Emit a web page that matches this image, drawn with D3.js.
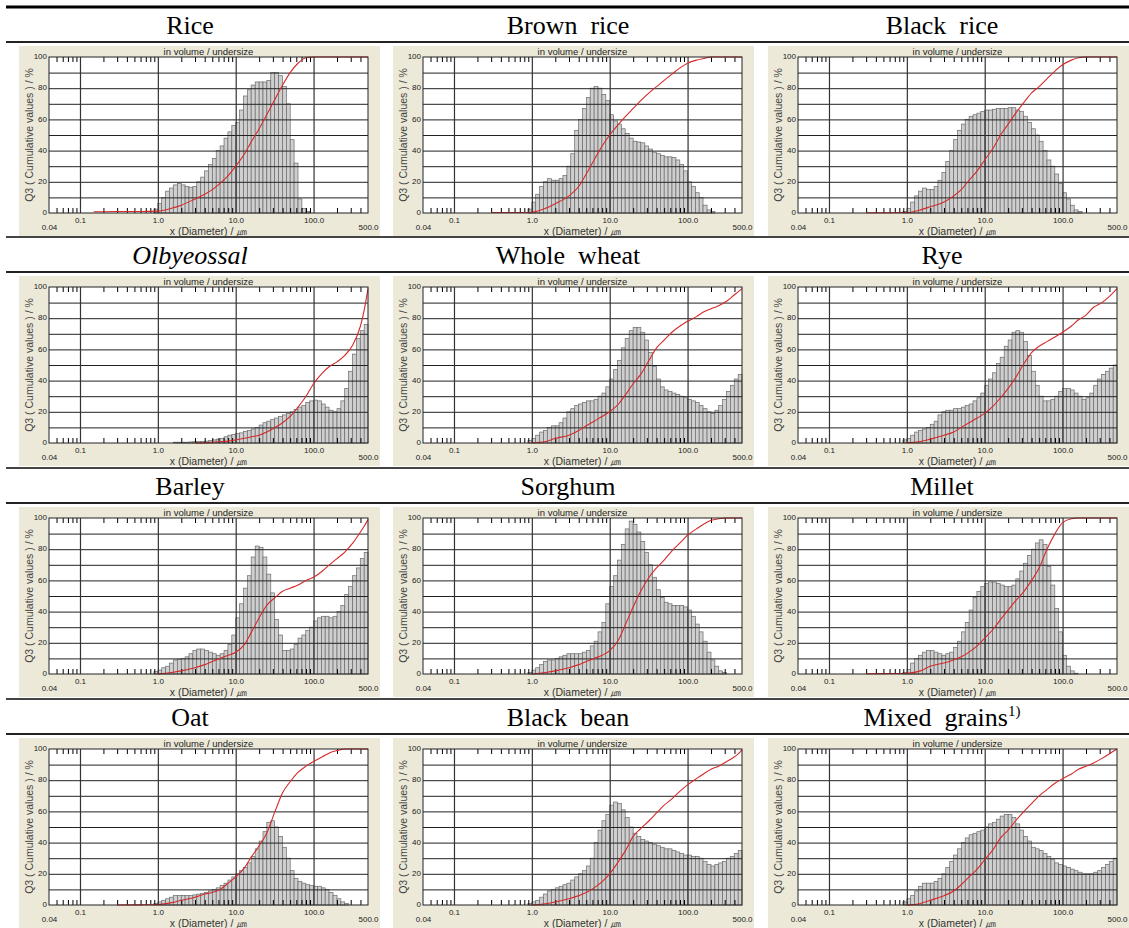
<!DOCTYPE html>
<html>
<head>
<meta charset="utf-8">
<script src="https://cdn.jsdelivr.net/npm/d3@7"></script>
<style>
  body { margin: 0; background: #fff; }
  svg { display: block; }
</style>
</head>
<body>
<svg id="chart"></svg>
<script>
// size classes of the analyser (um), 20 per decade
var classEdges = [0.89, 1.00, 1.12, 1.26, 1.41, 1.58, 1.78, 2.00, 2.24, 2.51, 2.82, 3.16, 3.55, 3.98, 4.47,
  5.01, 5.62, 6.31, 7.08, 7.94, 8.91, 10.0, 11.2, 12.6, 14.1, 15.8, 17.8, 20.0, 22.4, 25.1, 28.2, 31.6,
  35.5, 39.8, 44.7, 50.1, 56.2, 63.1, 70.8, 79.4, 89.1, 100, 112, 126, 141, 158, 178, 200, 224, 251,
  282, 316, 355, 398, 447, 500];

// x positions where the cumulative (undersize) curve was read
var cumX = [0.15, 0.3, 0.6, 1.0, 1.5, 2, 3, 4, 5, 6.3, 8, 10, 13, 16, 20, 25, 32, 40, 50, 63, 80, 100,
  130, 160, 200, 250, 320, 400, 450, 500];

var names = ["Rice", "Brown  rice", "Black  rice", "Olbyeossal", "Whole  wheat", "Rye",
  "Barley", "Sorghum", "Millet", "Oat", "Black  bean", "Mixed  grains"];

var yTicks = [0, 20, 40, 60, 80, 100];
var yGrid = [10, 20, 30, 40, 50, 60, 70, 80, 90];
var xDecades = [0.1, 1, 10, 100];
var xEnds = [0.04, 500];
var minorTicks = [0.05, 0.06, 0.07, 0.08, 0.09, 0.2, 0.3, 0.4, 0.5, 0.6, 0.7, 0.8, 0.9,
  2, 3, 4, 5, 6, 7, 8, 9, 20, 30, 40, 50, 60, 70, 80, 90, 200, 300, 400];

// histogram heights, first value is the 0.89-1.0 class
var riceQ3 = [2.5, 6, 10, 14, 16, 18, 19, 18, 17, 16.5, 17, 20, 23, 27, 31, 35, 40, 43, 48, 52, 56, 58, 66, 75,
  79, 82, 84, 84, 84, 85, 90, 90, 88, 81, 70, 47, 32, 9, 3, 1];
var riceCum = [0.8, 1, 1, 1.2, 3, 5, 9, 12, 15, 19, 24, 30, 38, 46, 54, 63, 73, 82, 90, 96, 99.5, 100,
  100, 100, 100, 100, 100, 100, 100, 100];

var brownQ3 = [2.5, 7, 12, 17, 20, 22, 21, 21, 22, 24, 30, 38, 53, 60, 67, 74, 80, 81, 80, 76, 72, 63, 59, 57,
  54, 51, 48, 46, 45.5, 45, 43, 41, 39, 38, 37, 36, 36, 35.5, 34, 31, 27, 20, 17, 13, 10, 5, 2, 1];
var brownCum = [null, 0.3, 0.3, 0.5, 3, 6, 11, 17, 25, 34, 43, 50, 57, 62, 67, 72, 77, 81, 85, 89, 93, 96,
  98, 99, 100, 100, 100, 100, 100, 100];

var blackRiceQ3 = [1, 3, 7, 11, 14, 16, 15, 15, 17, 21, 26, 33, 40, 47, 53, 57, 60, 62, 63, 64, 65, 66, 66,
  66.5, 67, 67, 67, 67.5, 67.5, 66, 65, 62, 58, 54, 50, 46, 40, 34, 30, 25, 19, 13, 9, 5, 2, 1];
var blackRiceCum = [null, 0.2, 0.2, 0.3, 2, 4, 7, 11, 15, 21, 27, 34, 42, 50, 57, 64, 71, 77, 81, 86, 91, 95,
  98, 99.5, 100, 100, 100, 100, 100, 100];

var olbyeoQ3 = [0, 0, 0, 0, 0, 0.5, 0.5, 0.5, 0.5, 0.7, 0.8, 1, 1, 1.2, 1.5, 2, 2.5, 3, 4, 5, 5.5, 6, 6.5,
  7.5, 8, 9, 10, 11.5, 13, 14, 15, 16, 17, 18, 19, 20, 21.5, 23, 24, 26, 27, 27.5, 27, 25, 23, 21, 20, 22,
  27, 35, 46, 57, 67, 72, 76];
var olbyeoCum = [null, null, null, null, null, null, 0, 0.2, 0.5, 0.8, 1.2, 2, 3, 4, 5, 7, 10, 13, 17, 23,
  30, 38, 45, 49, 52, 56, 63, 75, 86, 99];

var wheatQ3 = [1.5, 3, 5, 7, 8, 10, 11, 11, 13, 16, 20, 22, 24, 25, 26, 27, 27, 28, 30, 32, 36, 41, 47, 53,
  61, 67, 72, 74, 74, 71, 66, 58, 49, 41, 36, 34, 33, 32, 31, 30, 29, 28, 27, 26, 24, 22, 20, 19, 21, 24,
  28, 33, 37, 41, 44];
var wheatCum = [null, null, null, 0.2, 1, 3, 5, 8, 11, 14, 17, 20, 25, 31, 38, 44, 53, 61, 66, 71, 75, 78,
  81, 84, 86, 88, 91, 95, 97, 99];

var ryeQ3 = [2, 3, 5, 7, 8, 9, 10, 12, 14, 18, 20, 21, 21, 22, 22, 23, 24, 25, 27, 29, 32, 37, 41, 45, 51,
  55, 62, 66, 71, 72, 71, 65, 56, 46, 37, 30, 27, 27, 28, 30, 33, 35, 35, 34, 32, 30, 28, 29, 32, 37, 41,
  44, 46, 48, 50];
var ryeCum = [null, null, null, 0.3, 1, 2.5, 5, 7, 10, 13, 16, 19, 24, 29, 35, 42, 51, 58, 62, 65, 68, 71,
  75, 79, 82, 87, 90, 94, 96.5, 99];

var barleyQ3 = [1.5, 2.5, 4, 5, 7, 9, 9.5, 10, 11, 13, 15, 16, 16, 15, 14, 13, 12, 13, 15, 19, 25, 36, 45,
  55, 63, 75, 82, 81, 75, 64, 52, 35, 25, 15, 15, 16, 19, 23, 25, 28, 30, 34, 36, 37, 37, 36, 37, 40, 44,
  51, 56, 63, 68, 74, 78];
var barleyCum = [null, null, null, 0, 1, 2, 4, 6, 8, 10, 12, 14, 19, 27, 36, 44, 49, 53, 55, 57, 60, 62,
  66, 70, 74, 78, 84, 91, 95, 99];

var sorghumQ3 = [1, 2.5, 4, 6, 8, 9, 9, 10, 11, 12, 13, 13, 13, 13, 14, 15, 18, 21, 27, 33, 45, 56, 63, 73,
  83, 93, 98, 96, 91, 85, 78, 70, 62, 54, 49, 46, 45, 44, 44, 44, 43, 41, 37, 32, 27, 21, 14, 9, 5, 2, 1];
var sorghumCum = [null, null, null, 0, 1, 2, 4, 6, 8, 10, 12, 15, 22, 32, 43, 53, 62, 68, 73, 79, 84, 89,
  93, 96, 98.5, 99.5, 100, 100, 100, 100];

var milletQ3 = [1, 3, 7, 10, 12, 14, 15, 15, 14, 13, 12, 13, 14, 17, 21, 27, 33, 41, 49, 53, 56, 58, 59,
  59, 58, 57, 56, 56, 57, 61, 66, 71, 76, 80, 84, 86, 83, 69, 57, 42, 27, 12, 5, 2, 0.5];
var milletCum = [null, 0.2, 0.3, 0.5, 2, 5, 7, 9, 11, 14, 18, 23, 29, 35, 41, 47, 53, 60, 68, 80, 90, 97,
  99.5, 100, 100, 100, 100, 100, 100, 100];

var oatQ3 = [1, 2, 3, 4, 5, 6, 6, 6, 6, 6, 6.5, 7, 7.5, 8, 9, 10, 11, 12.5, 14, 16, 18, 20, 22, 24, 27, 31,
  36, 41, 47, 53, 54, 50, 44, 37, 30, 22, 17, 15, 14, 13, 12.5, 12, 12, 11, 10, 8, 6, 4, 2, 1];
var oatCum = [null, 0, 0.1, 0.3, 1.5, 3, 5, 7, 8, 10, 14, 18, 24, 31, 38, 46, 60, 72, 79, 85, 89, 92, 95,
  97.5, 99, 100, 100, 100, 100, 100];

var beanQ3 = [1, 2, 3, 5, 7, 9, 10, 11, 12, 13, 14, 16, 18, 20, 22, 25, 30, 40, 48, 54, 58, 64, 66, 65, 61,
  56, 50, 46, 44, 42, 41, 40, 39, 38, 37, 36, 36, 35, 34, 33, 32, 32, 31, 31, 30, 28, 26, 25, 26, 27, 28,
  30, 31, 33, 35];
var beanCum = [null, null, null, 0, 0.8, 2, 4, 6, 8, 11, 15, 20, 28, 35, 44, 49, 54, 59, 64, 68, 73, 77,
  81, 84, 87, 89, 92, 95, 97, 99.5];

var mixedQ3 = [2, 4, 6, 9, 12, 14, 14, 14, 15, 17, 20, 24, 28, 32, 36, 40, 43, 45, 46, 47, 48, 50, 52, 53,
  55, 57, 58, 58, 56, 52, 48, 44, 41, 37, 36, 35, 33, 31, 29, 27, 26, 25, 24, 23, 22, 21, 20, 20, 20, 21,
  22, 24, 26, 28, 30];
var mixedCum = [null, null, null, 0, 1, 3, 6, 9, 13, 18, 23, 29, 36, 43, 48, 54, 60, 65, 70, 74, 78, 81,
  84, 87, 89, 91, 94, 97, 98.5, 100];

var q3List = [riceQ3, brownQ3, blackRiceQ3, olbyeoQ3, wheatQ3, ryeQ3, barleyQ3, sorghumQ3, milletQ3,
  oatQ3, beanQ3, mixedQ3];
var cumList = [riceCum, brownCum, blackRiceCum, olbyeoCum, wheatCum, ryeCum, barleyCum, sorghumCum,
  milletCum, oatCum, beanCum, mixedCum];

var width = 1129, height = 928;
var rowTops = [42, 272, 503, 734];
var plotLefts = [49, 423, 798];
var colCenters = [190, 568, 942];
var plotW = 319, plotH = 156;
var panelColor = "#ece9d8";
var sans = "'Liberation Sans', Arial, sans-serif";

var svg = d3.select("#chart").attr("width", width).attr("height", height);

var x = d3.scaleLog().domain([0.04, 500]).range([0, plotW]);
var y = d3.scaleLinear().domain([0, 100]).range([plotH, 0]);

/* table rules */
svg.append("line").attr("x1", 6).attr("x2", width).attr("y1", 7).attr("y2", 7)
  .attr("stroke", "#000").attr("stroke-width", 3);
rowTops.forEach(function (t, r) {
  svg.append("line").attr("x1", 6).attr("x2", width).attr("y1", t).attr("y2", t)
    .attr("stroke", "#222").attr("stroke-width", 2);
  if (r > 0) {
    svg.append("line").attr("x1", 6).attr("x2", width).attr("y1", t - 35).attr("y2", t - 35)
      .attr("stroke", "#444").attr("stroke-width", 2);
  }
});

var cumLine = d3.line()
  .defined(function (d) { return d[1] != null; })
  .x(function (d) { return x(d[0]); })
  .y(function (d) { return y(d[1]); })
  .curve(d3.curveMonotoneX);

names.forEach(function (name, i) {
  var row = Math.floor(i / 3), col = i % 3;
  var top = rowTops[row] + 15;
  var left = plotLefts[col];

  /* title */
  var title = svg.append("text")
    .attr("x", colCenters[col]).attr("y", rowTops[row] - 8)
    .attr("text-anchor", "middle")
    .style("white-space", "pre")
    .attr("font-family", "'Liberation Serif', 'Times New Roman', serif")
    .attr("font-size", 26)
    .attr("font-style", name == "Olbyeossal" ? "italic" : "normal");
  title.append("tspan").text(name);
  if (name == "Mixed  grains") {
    title.append("tspan").attr("font-size", 15).attr("dy", -10).text("1)");
  }

  var g = svg.append("g").attr("transform", "translate(" + left + "," + top + ")");

  g.append("rect").attr("x", -30).attr("y", -11).attr("width", plotW + 42).attr("height", 190)
    .attr("fill", panelColor);
  g.append("rect").attr("width", plotW).attr("height", plotH).attr("fill", "#fff");

  /* bars */
  var q3 = q3List[i];
  g.append("g").selectAll("rect")
    .data(q3.map(function (v, k) { return { v: v, k: k }; }).filter(function (d) { return d.v > 0; }))
    .enter().append("rect")
    .attr("x", function (d) { return x(classEdges[d.k]); })
    .attr("width", function (d) { return x(classEdges[d.k + 1]) - x(classEdges[d.k]); })
    .attr("y", function (d) { return y(d.v); })
    .attr("height", function (d) { return y(0) - y(d.v); })
    .attr("fill", "#cfcfcf")
    .attr("stroke", "#6a6a6a")
    .attr("stroke-width", 0.7);

  /* grid */
  var hGrid = g.append("g").call(d3.axisLeft(y).tickValues(yGrid).tickSize(-plotW).tickFormat(""));
  hGrid.select(".domain").remove();
  hGrid.selectAll("line").attr("stroke", "#222");

  var vGrid = g.append("g")
    .call(d3.axisBottom(x).tickValues(xDecades).tickSize(plotH).tickFormat(""));
  vGrid.select(".domain").remove();
  vGrid.selectAll("line").attr("stroke", "#333").attr("stroke-width", 1.2);

  /* minor ticks top and bottom */
  var topTicks = g.append("g").call(d3.axisTop(x).tickValues(minorTicks).tickSize(-5).tickFormat(""));
  topTicks.select(".domain").remove();
  topTicks.selectAll("line").attr("stroke", "#000");
  var botTicks = g.append("g").attr("transform", "translate(0," + plotH + ")")
    .call(d3.axisBottom(x).tickValues(minorTicks).tickSize(-5).tickFormat(""));
  botTicks.select(".domain").remove();
  botTicks.selectAll("line").attr("stroke", "#000");

  /* cumulative curve */
  g.append("path")
    .datum(cumX.map(function (v, k) { return [v, cumList[i][k]]; }))
    .attr("d", cumLine)
    .attr("fill", "none")
    .attr("stroke", "#d42a2a")
    .attr("stroke-width", 1.1);

  /* frame */
  g.append("rect").attr("width", plotW).attr("height", plotH)
    .attr("fill", "none").attr("stroke", "#222").attr("stroke-width", 1);

  /* tick labels */
  var yAx = g.append("g").call(d3.axisLeft(y).tickValues(yTicks).tickSize(0).tickPadding(2));
  yAx.select(".domain").remove();
  yAx.selectAll("text").attr("font-family", sans).attr("font-size", 8).attr("fill", "#222").attr("dy", "0.2em");

  var xAx = g.append("g").attr("transform", "translate(0," + plotH + ")")
    .call(d3.axisBottom(x).tickValues(xDecades).tickSize(0).tickPadding(4).tickFormat(d3.format(".1f")));
  xAx.select(".domain").remove();
  xAx.selectAll("text").attr("font-family", sans).attr("font-size", 8).attr("fill", "#222");

  var xEnd = g.append("g").attr("transform", "translate(0," + plotH + ")")
    .call(d3.axisBottom(x).tickValues(xEnds).tickSize(0).tickPadding(11)
      .tickFormat(function (d) { return d < 1 ? "0.04" : d3.format(".1f")(d); }));
  xEnd.select(".domain").remove();
  xEnd.selectAll("text").attr("font-family", sans).attr("font-size", 8).attr("fill", "#222");

  /* captions */
  g.append("text").attr("x", plotW / 2).attr("y", -2).attr("text-anchor", "middle")
    .attr("font-family", sans).attr("font-size", 9.5).attr("fill", "#222")
    .text("in volume / undersize");

  g.append("text").attr("x", plotW / 2).attr("y", plotH + 22).attr("text-anchor", "middle")
    .attr("font-family", sans).attr("font-size", 10.5).attr("fill", "#333")
    .text("x (Diameter) / ㎛");

  g.append("text")
    .attr("transform", "translate(-16," + plotH / 2 + ") rotate(-90)")
    .attr("text-anchor", "middle")
    .attr("font-family", sans).attr("font-size", 10.5).attr("fill", "#444")
    .text("Q3 ( Cumulative values ) / %");
});
</script>
</body>
</html>
